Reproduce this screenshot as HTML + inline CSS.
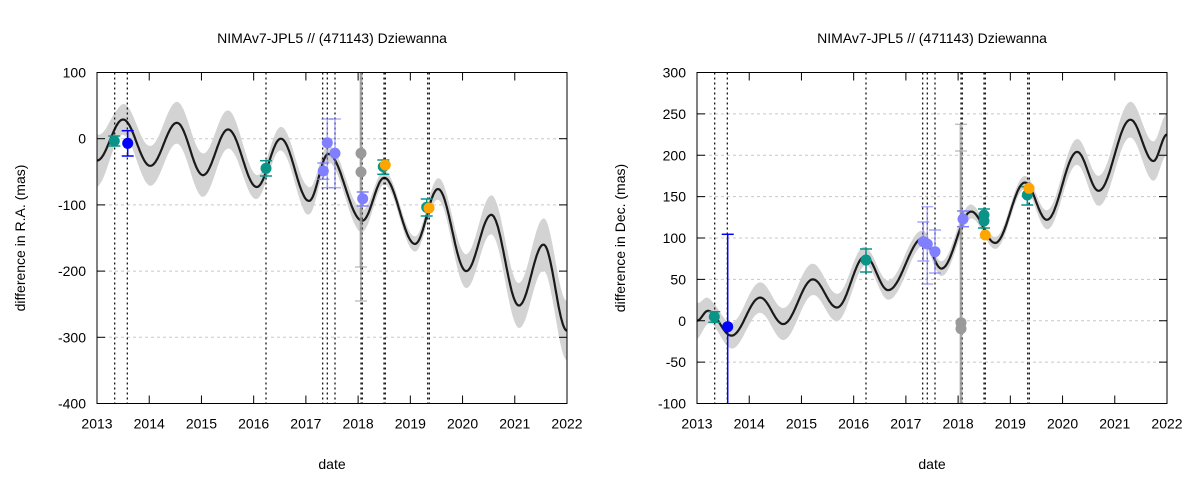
<!DOCTYPE html>
<html><head><meta charset="utf-8">
<style>
html,body{margin:0;padding:0;background:#fff;}
svg text{font-family:"Liberation Sans",Arial,sans-serif;fill:#000;}
</style></head>
<body>
<svg id="s" width="1200" height="480" viewBox="0 0 1200 480" xmlns="http://www.w3.org/2000/svg"></svg>
<script>
const NS="http://www.w3.org/2000/svg";
const S=document.getElementById('s');
function el(t,a,txt){const e=document.createElementNS(NS,t);for(const k in a)e.setAttribute(k,a[k]);if(txt!==undefined)e.textContent=txt;S.appendChild(e);return e;}
function interp(ext,t){for(let i=0;i<ext.length-1;i++){const a=ext[i],b=ext[i+1];if(t>=a[0]&&t<=b[0]){const s=(t-a[0])/(b[0]-a[0]);return a[1]+(b[1]-a[1])*(1-Math.cos(Math.PI*s))/2;}}return ext[ext.length-1][1];}
function lin(n,t){for(let i=0;i<n.length-1;i++){const a=n[i],b=n[i+1];if(t>=a[0]&&t<=b[0]){const s=(t-a[0])/(b[0]-a[0]);return a[1]+(b[1]-a[1])*s;}}return n[n.length-1][1];}

function plot(o){
 const X0=o.x0,X1=o.x0+470,Y0=72.5,Y1=403.5;
 const px=t=>X0+(t)*(470/9);
 const py=v=>Y0+(o.vmax-v)/(o.vmax-o.vmin)*(Y1-Y0);
 for(const v of o.ticks){const y=py(v);if(v!==o.vmax&&v!==o.vmin)el('line',{x1:X0,x2:X1,y1:y,y2:y,stroke:'#c8c8c8','stroke-dasharray':'3,3','stroke-width':1});}
 let up=[],dn=[];
 for(let i=0;i<=450;i++){const t=i/50;const v=interp(o.ext,t),w=lin(o.band,t);up.push(px(t).toFixed(1)+','+py(v+w).toFixed(1));dn.push(px(t).toFixed(1)+','+py(v-w).toFixed(1));}
 el('polygon',{points:up.concat(dn.reverse()).join(' '),fill:'#d3d3d3'});
 let c=[];for(let i=0;i<=450;i++){const t=i/50;c.push(px(t).toFixed(1)+','+py(interp(o.ext,t)).toFixed(1));}
 el('polyline',{points:c.join(' '),fill:'none',stroke:'#1a1a1a','stroke-width':2.2});
 for(const x of [114.7,127.3,266,322.7,327.3,335,361,362.3,384,385.3,427.7,429.3]){const xx=x+o.x0-97;el('line',{x1:xx,x2:xx,y1:Y0,y2:Y1,stroke:'#000','stroke-width':1.2,'stroke-dasharray':'2,3'});}
 for(const p of o.pts){const x=p[0]+o.x0-97;
  if(p[3]!==null){el('line',{x1:x,x2:x,y1:p[3],y2:p[4],stroke:p[5],'stroke-width':p[6]||1,opacity:p[7]||1});
   if(p[8]!==false){for(const yy of [p[3],p[4]]) if(yy>Y0+1&&yy<Y1-1) el('line',{x1:x-6,x2:x+6,y1:yy,y2:yy,stroke:p[5],'stroke-width':1.5,opacity:p[7]||1});}}
 }
 for(const p of o.pts){const x=p[0]+o.x0-97;if(p[1]!==null)el('circle',{cx:x,cy:p[1],r:5.5,fill:p[2]});}
 el('rect',{x:X0,y:Y0,width:470,height:Y1-Y0,fill:'none',stroke:'#000','stroke-width':1});
 for(const v of o.ticks){const y=py(v);el('line',{x1:X0,x2:X0+8,y1:y,y2:y,stroke:'#000'});el('line',{x1:X1-8,x2:X1,y1:y,y2:y,stroke:'#000'});
  el('text',{x:X0-11,y:y+5,'text-anchor':'end','font-size':14},String(v));}
 for(let k=0;k<=9;k++){const x=px(k);el('line',{x1:x,x2:x,y1:Y1,y2:Y1-8,stroke:'#000'});el('line',{x1:x,x2:x,y1:Y0,y2:Y0+8,stroke:'#000'});
  el('text',{x:x,y:Y1+25,'text-anchor':'middle','font-size':14},String(2013+k));}
 el('text',{x:X0+235,y:43,'text-anchor':'middle','font-size':14},'NIMAv7-JPL5 // (471143) Dziewanna');
 el('text',{x:X0+235,y:469,'text-anchor':'middle','font-size':14},'date');
 const ly=(Y0+Y1)/2;el('text',{x:o.x0-72,y:ly,'text-anchor':'middle','font-size':14,transform:`rotate(-90 ${o.x0-72} ${ly})`},o.ylabel);
}
const T='#0a9488',B='#0000ff',L='#7f7fff',G='#9a9a9a',O='#ffa500';
plot({x0:97,vmax:100,vmin:-400,ticks:[100,0,-100,-200,-300,-400],ylabel:'difference in R.A. (mas)',
 ext:[[0,-33],[0.5,29],[1.02,-41],[1.53,24],[2.03,-55],[2.51,14],[3.06,-73],[3.52,0],[4.06,-94],[4.43,-23],[5.08,-124],[5.5,-59],[6.09,-159],[6.53,-76],[7.07,-200],[7.55,-115],[8.08,-252],[8.55,-160],[9,-290]],
 band:[[0,40],[0.4,22],[1,30],[2,33],[2.6,28],[3.2,15],[4,22],[4.4,12],[5,18],[5.5,10],[6.3,12],[7,25],[8,33],[9,45]],
 pts:[[114.3,141,T,136,146,T,1.5],[127.7,143.3,B,130.7,156,B,1.5],[266,168.3,T,160.7,176,T,1.5],
  [323.3,171,L,163,179.3,L,1.5,0.8],[327.3,142.7,L,119,187.7,L,1.5,0.6],[335,153.3,L,119,187.7,L,1.5,0.6],
  [361,153.3,G,72,267,G,3,0.6],[361,172,G,72,301,G,2,0.6],[362.7,198.7,L,192,206,L,1.5],
  [383.3,166.7,T,160,174.3,T,1.5],[385.3,165,O,null,null,O],[426.7,207.3,T,199,216,T,1.5],[429,208,O,null,null,O]]});
plot({x0:697,vmax:300,vmin:-100,ticks:[300,250,200,150,100,50,0,-50,-100],ylabel:'difference in Dec. (mas)',
 ext:[[0,0],[0.21,12],[0.66,-18],[1.21,28],[1.65,-4],[2.22,50],[2.68,16],[3.22,78],[3.66,37],[4.33,100],[4.68,63],[5.25,132],[5.71,94],[6.28,167],[6.7,122],[7.28,204],[7.69,157],[8.3,243],[8.74,193],[9,225]],
 band:[[0,22],[0.3,13],[1,18],[2,20],[3,15],[3.3,10],[4,13],[4.4,8],[5,10],[5.5,7],[6.3,8],[7,14],[8,20],[9,25]],
 pts:[[114.3,316.7,T,311.7,322.3,T,1.5],[127.7,326.7,B,234.3,404,B,1.5],[266,260,T,249,272,T,1.5],
  [323.3,241.7,L,222,261,L,1.5,0.7],[327.3,244,L,206.7,284,L,1.5,0.6],[335,251.7,L,230,273,L,1.5,0.7],
  [361,322.7,G,124.3,404,G,3,0.6],[361,328.7,G,151,404,G,2,0.6],[363,219,L,211,226.7,L,1.5],
  [384,215,T,209,228,T,1.5],[384,221,T,null,null,T],[385.3,235,O,null,null,O],[427.3,195,T,186.7,205,T,1.5],[429,188.3,O,null,null,O]]});
</script>
</body></html>
